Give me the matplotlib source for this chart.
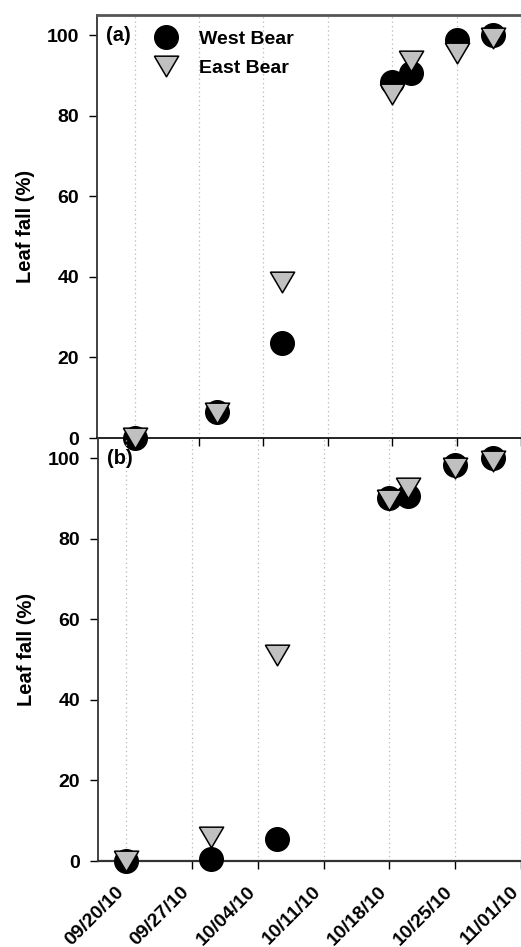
import matplotlib
matplotlib.use("Agg")
import matplotlib.pyplot as plt
import matplotlib.dates as mdates
from matplotlib.lines import Line2D
from matplotlib.transforms import ScaledTranslation
import datetime as dt

plt.rcParams['font.family'] = ['Liberation Sans', 'DejaVu Sans']
plt.rcParams['font.weight'] = 'bold'

# ---- data ----
dates = ["2010-09-20", "2010-09-29", "2010-10-06", "2010-10-18",
         "2010-10-20", "2010-10-25", "2010-10-29"]
west_a = [0, 6.4, 23.6, 88.3, 90.5, 98.8, 100]
east_a = [0, 6.2, 38.6, 85.5, 93.5, 95.5, 99.4]
west_b = [0, 0.4, 5.4, 90.0, 90.6, 98.3, 100]
east_b = [0, 6.0, 51.2, 89.6, 92.5, 97.5, 99.3]
tick_dates = ["2010-09-20", "2010-09-27", "2010-10-04", "2010-10-11",
              "2010-10-18", "2010-10-25", "2010-11-01"]
yticks = [0, 20, 40, 60, 80, 100]
series_names = ["West Bear", "East Bear"]

d = [dt.datetime.strptime(s, "%Y-%m-%d") for s in dates]
td = [dt.datetime.strptime(s, "%Y-%m-%d") for s in tick_dates]
base = dt.datetime(2010, 9, 20)

W, H = 521, 947
fig = plt.figure(figsize=(W / 100, H / 100), dpi=100)

left = 97 / W
ax1 = fig.add_axes([left, 1 - 438 / H, 1 - left, (438 - 15) / H])
ax2 = fig.add_axes([left + 1 / W, 1 - 861 / H, 1 - left - 1 / W, (861 - 438) / H])
ax2.set_facecolor('none')

FS = 14
tri_path = [(-1, 0.85), (1, 0.85), (0, -0.85), (-1, 0.85)]
circ_kw = dict(marker='o', linestyle='none', markersize=17, markerfacecolor='black',
               markeredgecolor='black', markeredgewidth=1, clip_on=False, zorder=5)
tri_kw = dict(marker=tri_path, linestyle='none', markersize=17.5, markerfacecolor='#c0c0c0',
              markeredgecolor='black', markeredgewidth=1.1, clip_on=False, zorder=6)

for ax, w, e, xl, lab in [(ax1, west_a, east_a, (-4.1, 41.7), "(a)"),
                          (ax2, west_b, east_b, (-3.0, 41.6), "(b)")]:
    ax.plot(d, w, **circ_kw)
    ax.plot(d, e, **tri_kw)
    ax.set_xlim(base + dt.timedelta(days=xl[0]), base + dt.timedelta(days=xl[1]))
    ax.set_ylim(0, 105)
    ax.set_xticks(td)
    ax.set_yticks(yticks)
    ax.xaxis.set_major_formatter(mdates.DateFormatter("%m/%d/%y"))
    ax.grid(axis='x', color='#b8b8b8', linestyle=(0, (1, 2.5)), linewidth=0.9)
    ax.set_axisbelow(True)
    ax.spines['right'].set_visible(False)
    ax.tick_params(axis='y', direction='out', length=6, width=1, labelsize=FS, pad=7)
    ax.tick_params(axis='x', direction='out', length=6, width=1, labelsize=FS, pad=10)
    ax.set_ylabel("Leaf fall (%)", fontsize=14.5, fontweight='bold', labelpad=8)
    ax.spines['left'].set_color('#333333')
    ax.spines['left'].set_linewidth(1.3)
    ax.text(0.022, 0.951, lab, transform=ax.transAxes, fontsize=FS + 0.5,
            fontweight='bold', ha='left', va='center')

ax1.spines['top'].set_color('#555555')
ax1.spines['top'].set_linewidth(2)
ax1.spines['bottom'].set_color('black')
ax1.spines['bottom'].set_linewidth(1.2)
ax1.tick_params(axis='x', labelbottom=False)

ax2.spines['top'].set_visible(False)
ax2.spines['bottom'].set_color('#333333')
ax2.spines['bottom'].set_linewidth(1.6)
shift = ScaledTranslation(-8 / 72, 0, fig.dpi_scale_trans)
for t in ax2.get_xticklabels():
    t.set_rotation(45)
    t.set_ha('right')
    t.set_rotation_mode('anchor')
    t.set_fontweight('bold')
    t.set_transform(t.get_transform() + shift)

handles = [Line2D([], [], **{k: v for k, v in circ_kw.items() if k not in ('clip_on', 'zorder')}),
           Line2D([], [], **{k: v for k, v in tri_kw.items() if k not in ('clip_on', 'zorder')})]
leg = ax1.legend(handles, series_names, loc='upper left', bbox_to_anchor=(0.088, 1.005),
                 frameon=False, fontsize=FS, handletextpad=0.95, labelspacing=0.6,
                 borderaxespad=0.5, handlelength=1.5)
for t in leg.get_texts():
    t.set_fontweight('bold')

fig.savefig("out.png", dpi=100)
